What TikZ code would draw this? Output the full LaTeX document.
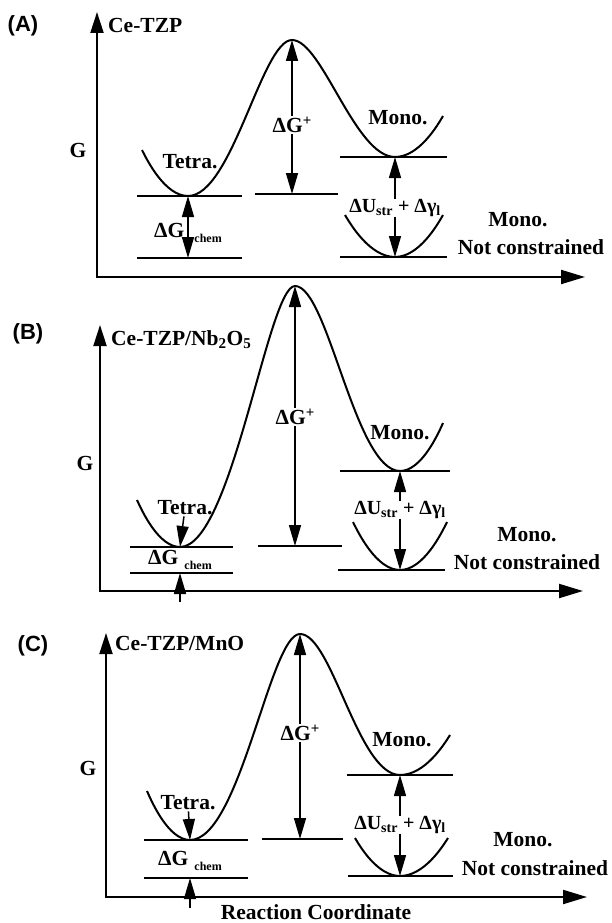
\documentclass[tikz,border=0pt]{standalone}
\usepackage{fontspec}
\setmainfont{Liberation Serif}
\setsansfont{Liberation Sans}
\usetikzlibrary{arrows.meta}
\newcommand{\dGplus}{ΔG\raisebox{7pt}{\fontsize{15}{15}\selectfont +}}
\begin{document}
\begin{tikzpicture}[x=1pt, y=-1pt,
  every node/.style={font=\fontsize{21.5}{23}\selectfont\bfseries, inner sep=1pt},
  paneltag/.style={font=\fontsize{22}{24}\selectfont\sffamily\bfseries},
  sumlabel/.style={font=\fontsize{20}{22}\selectfont\bfseries, inner sep=0pt},
  well/.style={line width=2pt},
  lvl/.style={line width=2.4pt},
  arr/.style={line width=1.5pt, -{Triangle[length=21pt, width=12pt]}},
  axisline/.style={line width=2pt, {Triangle[length=21pt, width=13pt]}-{Triangle[length=24pt, width=14pt]}}]
  \useasboundingbox (0,0) rectangle (611,923);
  % (A) Ce-TZP
  \node[paneltag] (Atag) at (23,26) {(A)};
  \draw[axisline] (97,12) |- (585,277);
  \node[anchor=west] (Aname) at (107,25) {Ce-TZP};
  \node (AG) at (78,150) {G};
  \draw[well] (142,150) parabola[bend at end] (188,196) .. controls (232,196) and (262,40) .. (292,40)
    .. controls (322,40) and (355,157) .. (395,157) parabola[bend at start] (443,116);
  \draw[well] (345,215) parabola bend (395,257) (443,215);
  \draw[lvl] (137,196) -- (242,196) (137,258) -- (242,258) (255,194) -- (338,194)
    (340,157) -- (447,157) (340,257) -- (447,257);
  \coordinate (Atet) at (188,196); \coordinate (Achem) at (188,258);
  \coordinate (Apeak) at (292,40); \coordinate (Amid) at (292,194);
  \coordinate (Amono) at (395,157); \coordinate (Afree) at (395,257);
  \node (Atetra) at (190,162) {Tetra.};
  \node (Amonolbl) at (398,118) {Mono.};
  \node (AdGp) at (292,125) {\dGplus};
  \node[sumlabel] (AdU) at (395,208) {ΔU\textsubscript{str} + Δγ\textsubscript{l}};
  \node (AdGc) at (188,233) {ΔG\hspace{10pt}\raisebox{-5pt}{\fontsize{12}{12}\selectfont chem}};
  \node (Afreelbl) at (518,220) {Mono.};
  \node (Anc) at (531,247) {Not constrained};
  \draw[arr] (AdGp) -- (Apeak); \draw[arr] (AdGp) -- (Amid);
  \draw[arr] (AdU) -- (Amono); \draw[arr] (AdU) -- (Afree);
  \draw[arr] (AdGc.center) -- (Atet); \draw[arr] (AdGc.center) -- (Achem);
  % (B) Ce-TZP/Nb2O5
  \node[paneltag] (Btag) at (28,334) {(B)};
  \draw[axisline] (100,325) |- (583,591);
  \node[anchor=west] (Bname) at (110,340) {Ce-TZP/Nb\textsubscript{2}O\textsubscript{5}};
  \node (BG) at (85,463) {G};
  \draw[well] (137,500) parabola[bend at end] (180,547) .. controls (232,547) and (268,286) .. (295,286)
    .. controls (328,286) and (355,471) .. (400,471) parabola[bend at start] (443,423);
  \draw[well] (353,522) parabola bend (400,570) (447,522);
  \draw[lvl] (130,547) -- (233,547) (130,573) -- (233,573) (258,546) -- (342,546)
    (340,471) -- (450,471) (338,570) -- (445,570);
  \coordinate (Btet) at (180,547); \coordinate (Bchem) at (180,573); \coordinate (Btail) at (180,602);
  \coordinate (Bpeak) at (295,286); \coordinate (Bmid) at (295,546);
  \coordinate (Bmono) at (400,471); \coordinate (Bfree) at (400,570);
  \node (Btetra) at (185,508) {Tetra.};
  \node (Bmonolbl) at (400,433) {Mono.};
  \node (BdGp) at (295,417) {\dGplus};
  \node[sumlabel] (BdU) at (400,510) {ΔU\textsubscript{str} + Δγ\textsubscript{l}};
  \node (BdGc) at (180,560) {ΔG\hspace{6pt}\raisebox{-5pt}{\fontsize{12}{12}\selectfont chem}};
  \node (Bfreelbl) at (527,535) {Mono.};
  \node (Bnc) at (527,562) {Not constrained};
  \draw[arr] (BdGp) -- (Bpeak); \draw[arr] (BdGp) -- (Bmid);
  \draw[arr] (BdU) -- (Bmono); \draw[arr] (BdU) -- (Bfree);
  \draw[arr] (Btetra) -- (Btet); \draw[arr] (Btail) -- (Bchem);
  % (C) Ce-TZP/MnO
  \node[paneltag] (Ctag) at (33,646) {(C)};
  \draw[axisline] (106,633) |- (587,897);
  \node[anchor=west] (Cname) at (114,643) {Ce-TZP/MnO};
  \node (CG) at (88,768) {G};
  \draw[well] (147,791) parabola[bend at end] (190,840) .. controls (240,840) and (270,634) .. (300,634)
    .. controls (332,634) and (358,775) .. (400,775) parabola[bend at start] (450,735);
  \draw[well] (355,838) parabola bend (400,876) (448,838);
  \draw[lvl] (144,840) -- (248,840) (144,878) -- (248,878) (262,839) -- (343,839)
    (347,775) -- (453,775) (348,876) -- (453,876);
  \coordinate (Ctet) at (190,840); \coordinate (Cchem) at (190,878); \coordinate (Ctail) at (190,908);
  \coordinate (Cpeak) at (300,634); \coordinate (Cmid) at (300,839);
  \coordinate (Cmono) at (400,775); \coordinate (Cfree) at (400,876);
  \node (Ctetra) at (188,803) {Tetra.};
  \node (Cmonolbl) at (402,740) {Mono.};
  \node (CdGp) at (300,733) {\dGplus};
  \node[sumlabel] (CdU) at (400,825) {ΔU\textsubscript{str} + Δγ\textsubscript{l}};
  \node (CdGc) at (190,861) {ΔG\hspace{6pt}\raisebox{-5pt}{\fontsize{12}{12}\selectfont chem}};
  \node (Cfreelbl) at (523,840) {Mono.};
  \node (Cnc) at (535,868) {Not constrained};
  \node[inner sep=0pt] (Cxlabel) at (316,912) {Reaction Coordinate};
  \draw[arr] (CdGp) -- (Cpeak); \draw[arr] (CdGp) -- (Cmid);
  \draw[arr] (CdU) -- (Cmono); \draw[arr] (CdU) -- (Cfree);
  \draw[arr] (Ctetra) -- (Ctet); \draw[arr] (Ctail) -- (Cchem);
\end{tikzpicture}
\end{document}
